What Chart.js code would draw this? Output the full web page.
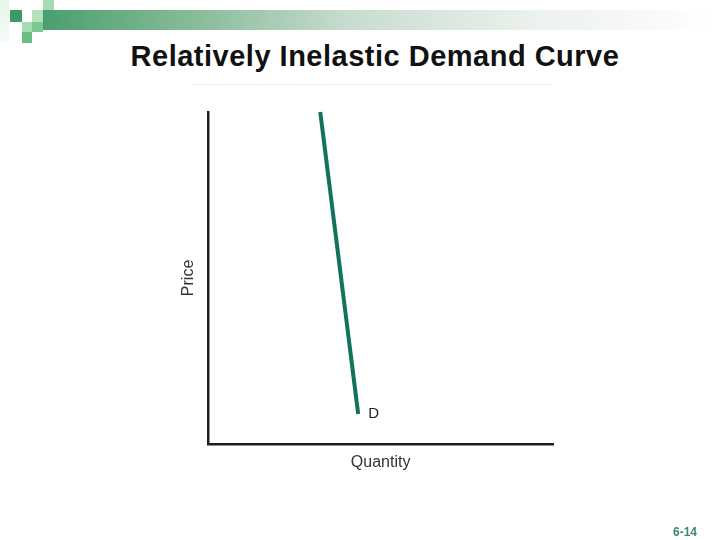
<!DOCTYPE html>
<html>
<head>
<meta charset="utf-8">
<script src="https://cdn.jsdelivr.net/npm/chart.js@4"></script>
<style>
  body { margin: 0; background: #fff; font-family: "Liberation Sans", Arial, sans-serif; }
  .slide { position: relative; width: 720px; height: 540px; overflow: hidden; }
  .sq { position: absolute; }
  .bar { position: absolute; left: 43px; top: 10px; width: 677px; height: 20px;
         background: linear-gradient(to right, #4a9e6e 0%, #8fbf9f 25%, #c8dccf 45%, #eef3ef 75%, #ffffff 100%); }
  h1 { position: absolute; left: 0; width: 750px; top: 40px; margin: 0; text-align: center;
       font-size: 29px; font-weight: bold; color: #111; letter-spacing: 0.5px; }
  .frame { position: absolute; left: 192px; top: 84px; width: 360px; height: 1px; background: #f0f0f0; }
  .page { position: absolute; left: 673px; top: 525px; font-size: 12px; font-weight: bold; color: #3a8a6a; }
  #chart { position: absolute; left: 0; top: 0; }
</style>
</head>
<body>
<div class="slide">
  <div class="sq" style="left:0;top:0;width:9px;height:42px;background:linear-gradient(#e6f6e8,#f6fcf6);"></div>
  <div class="bar"></div>
  <div class="sq" style="left:10px;top:10px;width:12px;height:12px;background:#3a9a6a;"></div>
  <div class="sq" style="left:43px;top:0;width:11px;height:10px;background:#a6dab4;"></div>
  <div class="sq" style="left:32px;top:10px;width:11px;height:12px;background:#b4e2bc;"></div>
  <div class="sq" style="left:22px;top:22px;width:10px;height:10px;background:#a8dcb2;"></div>
  <div class="sq" style="left:32px;top:22px;width:11px;height:10px;background:#7cc890;"></div>
  <div class="sq" style="left:22px;top:32px;width:10px;height:11px;background:#6cbd85;"></div>
  <h1>Relatively Inelastic Demand Curve</h1>
  <div class="frame"></div>
  <canvas id="chart" width="720" height="540"></canvas>
  <div class="page">6-14</div>
</div>
<script>
// Demand curve end points (quantity, price)
const quantity = [3.25, 4.35];
const price = [10, 0.9];
const curveLabel = "D";

const points = quantity.map((q, i) => ({ x: q, y: price[i] }));

// draws the "D" next to the last point of the curve
const curveLabelPlugin = {
  id: "curveLabel",
  afterDatasetsDraw(chart) {
    const ctx = chart.ctx;
    const meta = chart.getDatasetMeta(0);
    const last = meta.data[meta.data.length - 1];
    ctx.save();
    ctx.font = "15px 'Liberation Sans', Arial, sans-serif";
    ctx.fillStyle = "#222";
    ctx.textBaseline = "middle";
    ctx.fillText(curveLabel, last.x + 10, last.y);
    ctx.restore();
  },
};

const axisFont = { family: "'Liberation Sans', Arial, sans-serif", size: 16 };

const ctx = document.getElementById("chart").getContext("2d");
new Chart(ctx, {
  type: "scatter",
  data: {
    datasets: [
      {
        label: "Demand",
        data: points,
        showLine: true,
        borderColor: "#11735a",
        borderWidth: 4,
        pointRadius: 0,
        fill: false,
        clip: false,
      },
    ],
  },
  options: {
    responsive: false,
    animation: false,
    layout: { padding: { left: 175, right: 167, top: 112, bottom: 64 } },
    plugins: { legend: { display: false }, tooltip: { enabled: false } },
    scales: {
      x: {
        min: 0,
        max: 10,
        ticks: { display: false },
        grid: { display: false, drawTicks: false },
        border: { color: "#1e1e1e", width: 2.5 },
        title: {
          display: true,
          text: "Quantity",
          color: "#333",
          font: axisFont,
          padding: { top: 9, bottom: 4 },
        },
      },
      y: {
        min: 0,
        max: 10,
        ticks: { display: false },
        grid: { display: false, drawTicks: false },
        border: { color: "#1e1e1e", width: 2.5 },
        title: {
          display: true,
          text: "Price",
          color: "#333",
          font: axisFont,
          padding: { top: 4, bottom: 10 },
        },
      },
    },
  },
  plugins: [curveLabelPlugin],
});
</script>
</body>
</html>
